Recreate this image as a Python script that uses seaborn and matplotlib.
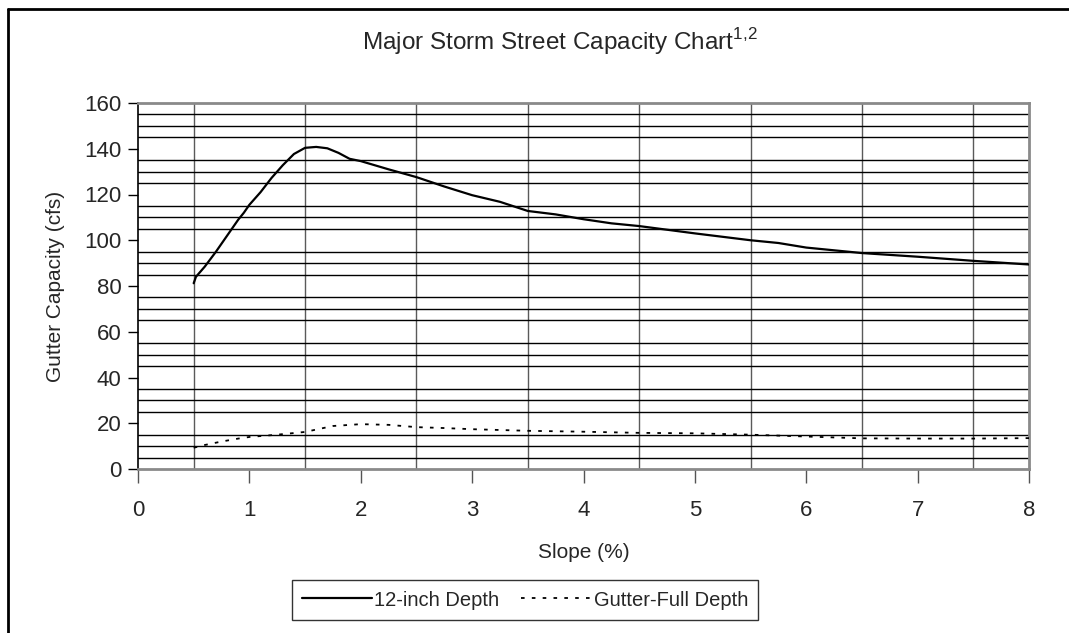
import numpy as np
import pandas as pd
import matplotlib
matplotlib.use("Agg")
import matplotlib.pyplot as plt
from matplotlib.lines import Line2D
import seaborn as sns

# values
slope_12in = [0.5, 0.52, 0.6, 0.7, 0.8, 0.9, 0.95, 1.0, 1.1, 1.2, 1.3, 1.4, 1.5, 1.6,
              1.7, 1.8, 1.9, 2.0, 2.25, 2.5, 2.75, 3.0, 3.25, 3.5, 3.75, 4.0, 4.25,
              4.5, 5.0, 5.5, 5.75, 6.0, 6.5, 7.0, 7.5, 8.0]
cap_12in = [81.2, 84.0, 88.5, 95.0, 102.0, 109.0, 112.0, 115.5, 121.0, 127.3, 132.8,
            137.7, 140.4, 140.8, 140.2, 138.2, 135.6, 134.6, 131.0, 127.6, 123.5,
            119.7, 116.8, 112.8, 111.3, 109.2, 107.4, 106.2, 103.0, 100.0, 98.8,
            96.8, 94.4, 92.8, 91.0, 89.4]

slope_gutter = [0.5, 0.6, 0.75, 0.9, 1.0, 1.25, 1.5, 1.75, 2.0, 2.25, 2.5, 2.75, 3.0,
                3.5, 4.0, 4.5, 5.0, 5.5, 6.0, 6.5, 7.0, 7.5, 8.0]
cap_gutter = [9.3, 10.5, 12.0, 13.3, 14.0, 15.0, 16.2, 18.8, 19.6, 19.3, 18.3, 17.9,
              17.4, 16.7, 16.3, 15.8, 15.6, 15.0, 14.2, 13.4, 13.3, 13.3, 13.5]

x_ticks = [0, 1, 2, 3, 4, 5, 6, 7, 8]
y_ticks = [0, 20, 40, 60, 80, 100, 120, 140, 160]

sns.set_style("white")
plt.rcParams['font.family'] = ['Liberation Sans', 'DejaVu Sans']
plt.rcParams['mathtext.fontset'] = 'custom'
plt.rcParams['mathtext.rm'] = 'Liberation Sans'

dash = (0, (2, 4))

fig = plt.figure(figsize=(10.69, 6.33), dpi=100)
ax = fig.add_axes([138 / 1069, 1 - 469 / 633, (1029 - 138) / 1069, (469 - 103) / 633])

df1 = pd.DataFrame({"slope": slope_12in, "cap": cap_12in})
df2 = pd.DataFrame({"slope": slope_gutter, "cap": cap_gutter})
sns.lineplot(data=df1, x="slope", y="cap", ax=ax, color="black", lw=1.6,
             label="12-inch Depth", zorder=5)
sns.lineplot(data=df2, x="slope", y="cap", ax=ax, color="black", lw=1.3,
             linestyle=dash, label="Gutter-Full Depth", zorder=5)

ax.set_xlim(0, 8)
ax.set_ylim(0, 160)
ax.set_xticks(x_ticks)
ax.set_yticks(y_ticks)
ax.set_xticks(np.arange(0, 8.01, 0.5), minor=True)
ax.set_yticks(np.arange(0, 160.1, 5), minor=True)
ax.grid(which="minor", axis="y", color="black", lw=1.0)
ax.grid(which="minor", axis="x", color="#5a5a5a", lw=1.0)
ax.tick_params(axis="x", which="major", direction="out", length=10, width=1,
               color="#555555", labelsize=16, pad=12, bottom=True)
ax.tick_params(axis="y", which="major", direction="out", length=7, width=1,
               color="black", labelsize=16, pad=5, left=True)
ax.tick_params(which="minor", length=0)
ax.set_axisbelow(True)

for side in ["top", "right"]:
    ax.spines[side].set_visible(True)
    ax.spines[side].set_color("#8a8a8a")
    ax.spines[side].set_linewidth(2)
ax.spines["left"].set_color("black")
ax.spines["left"].set_linewidth(1.2)
ax.spines["bottom"].set_color("#8a8a8a")
ax.spines["bottom"].set_linewidth(2)

ax.set_xlabel("Slope (%)", fontsize=15, labelpad=16)
ax.set_ylabel("Gutter Capacity (cfs)", fontsize=15, labelpad=14)

fig.text(560 / 1069, 1 - 42 / 633, r"Major Storm Street Capacity Chart$^{\mathrm{1{,}2}}$",
         ha="center", va="center", fontsize=17.5)

ax.get_legend().remove()
handles = [Line2D([], [], color="black", lw=1.6),
           Line2D([], [], color="black", lw=1.3, linestyle=dash)]
leg = fig.legend(handles, ["12-inch Depth", "Gutter-Full Depth"], ncol=2,
                 loc="center", bbox_to_anchor=(525 / 1069, 1 - 600 / 633),
                 fontsize=14.5, frameon=True, fancybox=False, edgecolor="black",
                 handlelength=3.5, handletextpad=0.1, columnspacing=1.1,
                 borderpad=0.5)
leg.get_frame().set_linewidth(1.0)

# outer chart frame (only top and left edges visible in the crop)
fig.add_artist(Line2D([8 / 1069, 1.0], [1 - 9 / 633, 1 - 9 / 633],
                      transform=fig.transFigure, color="black", lw=2))
fig.add_artist(Line2D([8 / 1069, 8 / 1069], [1 - 9 / 633, 0.0],
                      transform=fig.transFigure, color="black", lw=2))

fig.savefig("out.png", dpi=100)
